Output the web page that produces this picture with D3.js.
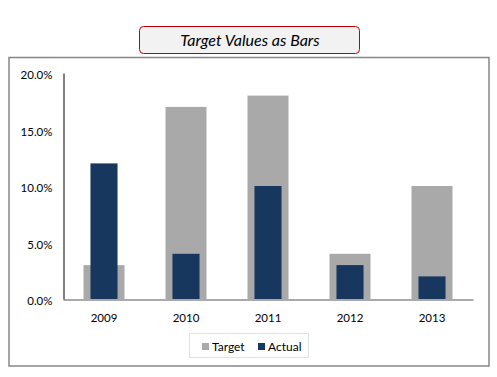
<!DOCTYPE html>
<html><head><meta charset="utf-8">
<script src="https://cdn.jsdelivr.net/npm/d3@7"></script>
<style>html,body{margin:0;padding:0;background:#fff;}svg{display:block;}</style>
</head><body>
<svg id="c" width="497" height="377"></svg>
<script>
const categories = ["2009","2010","2011","2012","2013"];
const targetValues = [0.03, 0.17, 0.18, 0.04, 0.10];
const actualValues = [0.12, 0.04, 0.10, 0.03, 0.02];
const yTicks = [0, 0.05, 0.10, 0.15, 0.20];
const seriesNames = ["Target", "Actual"];
const colors = {Target: "#a9a9a9", Actual: "#17375e"};
const title = "Target Values as Bars";
const font = "Lato, 'Open Sans', sans-serif";

const svg = d3.select("#c");
// outer frame
svg.append("rect").attr("x", 9).attr("y", 57.5).attr("width", 480).attr("height", 308.5)
  .attr("fill", "#fff").attr("stroke", "#868686").attr("stroke-width", 1.5);

// title box
svg.append("rect").attr("x", 139.5).attr("y", 26.5).attr("width", 220).attr("height", 27).attr("rx", 4)
  .attr("fill", "#f2f2f2").attr("stroke", "#c00000").attr("stroke-width", 1);
svg.append("text").attr("x", 250).attr("y", 46).attr("text-anchor", "middle")
  .attr("font-family", font).attr("font-style", "italic").attr("font-size", 16).attr("fill", "#000")
  .text(title);

const x = d3.scaleBand().domain(categories).range([63, 473]).paddingInner(0).paddingOuter(0);
const y = d3.scaleLinear().domain([0, 0.20]).range([299, 73]);

const g = svg.append("g");
const tw = x.bandwidth() * 0.5, aw = x.bandwidth() * 0.33;
g.selectAll(".t").data(categories).join("rect")
  .attr("x", d => x(d) + x.bandwidth()/2 - tw/2).attr("width", tw)
  .attr("y", (d,i) => y(targetValues[i])).attr("height", (d,i) => y(0) - y(targetValues[i]))
  .attr("fill", colors.Target);
g.selectAll(".a").data(categories).join("rect")
  .attr("x", d => x(d) + x.bandwidth()/2 - aw/2).attr("width", aw)
  .attr("y", (d,i) => y(actualValues[i])).attr("height", (d,i) => y(0) - y(actualValues[i]))
  .attr("fill", colors.Actual);

// y axis
const ya = svg.append("g").attr("transform", "translate(63.5,0)")
  .call(d3.axisLeft(y).tickValues(yTicks).tickFormat(d3.format(".1%")).tickSize(0).tickPadding(11));
ya.select(".domain").attr("stroke", "#000").attr("stroke-width", 1);
ya.selectAll("text").attr("font-family", font).attr("font-size", 11.5).attr("fill", "#000").attr("dy", "0.5em");

// x axis
const xa = svg.append("g").attr("transform", "translate(0,299.5)")
  .call(d3.axisBottom(x).tickSize(0).tickPadding(14));
xa.select(".domain").attr("stroke", "#555").attr("stroke-width", 1);
xa.selectAll("text").attr("font-family", font).attr("font-size", 11.5).attr("fill", "#000");

// legend
const lg = svg.append("g");
lg.append("rect").attr("x", 189.5).attr("y", 333.5).attr("width", 119).attr("height", 24)
  .attr("fill", "#fff").attr("stroke", "#dde4e4").attr("stroke-width", 1);
const lx = [202, 258];
seriesNames.forEach((s, i) => {
  lg.append("rect").attr("x", lx[i]).attr("y", 343).attr("width", 7).attr("height", 7).attr("fill", colors[s]);
  lg.append("text").attr("x", lx[i] + 10).attr("y", 350.5).attr("font-family", font)
    .attr("font-size", 12).attr("fill", "#000").text(s);
});
</script>
</body></html>
